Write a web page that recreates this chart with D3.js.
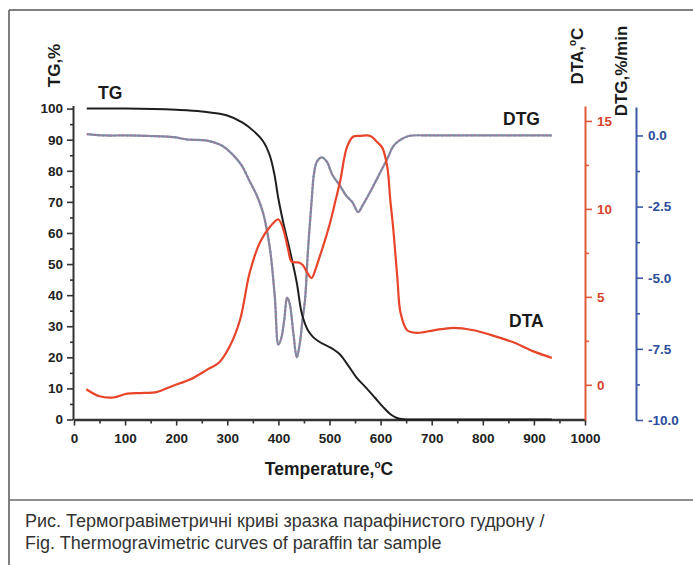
<!DOCTYPE html>
<html>
<head>
<meta charset="utf-8">
<script src="https://cdn.jsdelivr.net/npm/d3@7/dist/d3.min.js"></script>
<style>
  body { margin: 0; background: #fff; }
  svg { display: block; }
  svg text { font-family: Arial, "Liberation Sans", sans-serif; }
</style>
</head>
<body>
<svg id="chart" width="693" height="565"></svg>
<script>
// temperature, °C
const xTicks = [0, 100, 200, 300, 400, 500, 600, 700, 800, 900, 1000];
const tgTicks = [0, 10, 20, 30, 40, 50, 60, 70, 80, 90, 100];
const dtaTicks = [0, 5, 10, 15];
const dtgTicks = [0, -2.5, -5, -7.5, -10];

// TG, %
const tgTemp = [25, 100, 200, 250, 300, 330, 350, 370, 383, 392, 400, 410, 423, 436, 446, 458, 468, 480, 501, 520, 534, 553, 570, 589, 605, 620, 632, 645, 700, 800, 935];
const tgValues = [100, 100, 99.6, 99.1, 97.8, 95.5, 93, 89.5, 85, 79, 71, 63, 54, 44, 34, 28.6, 26.5, 25, 23.2, 21, 18, 13.5, 10.5, 7, 4, 1.6, 0.5, 0.1, 0, 0, 0];

// DTA, °C
const dtaTemp = [24, 50, 77, 104, 130, 163, 194, 227, 260, 285, 305, 325, 344, 364, 384, 400, 410, 419, 426, 440, 448, 458, 465, 473, 481, 492, 501, 512, 521, 534, 546, 560, 580, 593, 603, 613, 619, 625, 633, 639, 652, 671, 704, 743, 782, 815, 861, 899, 935];
const dtaValues = [-0.25, -0.65, -0.72, -0.5, -0.47, -0.4, -0.05, 0.3, 0.85, 1.3, 2.2, 3.7, 6.4, 8.1, 9.0, 9.4, 8.8, 7.7, 7.0, 6.95, 6.8, 6.3, 6.07, 6.6, 7.3, 8.3, 9.2, 10.5, 11.6, 13.5, 14.1, 14.15, 14.15, 13.8, 13.5, 12.4, 10.5, 8.8, 6.0, 4.1, 3.1, 2.95, 3.1, 3.24, 3.1, 2.84, 2.4, 1.9, 1.53];

// DTG, %/min
const dtgTemp = [25, 60, 100, 150, 200, 220, 260, 290, 312, 328, 344, 358, 370, 383, 393, 400, 406, 412, 417, 422, 429, 436, 442, 447, 452, 458, 465, 470, 476, 485, 495, 506, 520, 532, 545, 556, 565, 573, 585, 595, 605, 615, 624, 635, 655, 700, 800, 900, 935];
const dtgValues = [0.05, 0, 0, -0.02, -0.07, -0.14, -0.18, -0.36, -0.7, -1.05, -1.62, -2.12, -2.72, -3.92, -5.68, -7.35, -7.1, -6.4, -5.7, -5.9, -6.9, -7.8, -7.3, -6.5, -5.8, -4.0, -2.3, -1.3, -0.9, -0.77, -0.93, -1.4, -1.75, -2.1, -2.35, -2.69, -2.45, -2.2, -1.8, -1.45, -1.1, -0.75, -0.4, -0.2, -0.02, 0, 0, 0, 0];

const svg = d3.select("#chart");

// frame of the figure
svg.append("line").attr("x1", 9).attr("y1", 10).attr("x2", 693).attr("y2", 10)
    .attr("stroke", "#555").attr("stroke-width", 1.5);
svg.append("line").attr("x1", 9).attr("y1", 10).attr("x2", 9).attr("y2", 565)
    .attr("stroke", "#555").attr("stroke-width", 1.5);
svg.append("line").attr("x1", 9).attr("y1", 500).attr("x2", 693).attr("y2", 500)
    .attr("stroke", "#6a6a6a").attr("stroke-width", 1.5);

const x = d3.scaleLinear().domain([0, 1000]).range([74, 585]);
const yTG = d3.scaleLinear().domain([0, 101]).range([419.5, 105.5]);
const yDTA = d3.scaleLinear().domain([-2, 15.85]).range([420, 106]);
const yDTG = d3.scaleLinear().domain([-10, 1]).range([420, 107]);

function minorOf(major) {
    const out = [];
    for (let i = 0; i < major.length - 1; i++) out.push((major[i] + major[i + 1]) / 2);
    return out;
}

function styleAxis(g, color, width, labelColor) {
    g.attr("font-family", null).attr("font-size", null);
    g.select(".domain").attr("stroke", color).attr("stroke-width", width);
    g.selectAll(".tick line").attr("stroke", color).attr("stroke-width", 1.6);
    g.selectAll(".tick text")
        .attr("fill", labelColor)
        .style("font-size", "13.5px")
        .style("font-weight", "bold");
}

function minorStyle(g, color) {
    g.select(".domain").remove();
    g.selectAll("line").attr("stroke", color).attr("stroke-width", 1.6);
}

// minor ticks first, then the main axes on top
svg.append("g").attr("transform", "translate(0,419.5)")
    .call(d3.axisBottom(x).tickValues(minorOf(xTicks)).tickSize(4).tickFormat(""))
    .call(g => minorStyle(g, "#333"));
svg.append("g").attr("transform", "translate(73,0)")
    .call(d3.axisLeft(yTG).tickValues(minorOf(tgTicks)).tickSize(3).tickFormat(""))
    .call(g => minorStyle(g, "#333"));
svg.append("g").attr("transform", "translate(585,0)")
    .call(d3.axisRight(yDTA).tickValues(minorOf(dtaTicks)).tickSize(4).tickFormat(""))
    .call(g => minorStyle(g, "#e0583a"));
svg.append("g").attr("transform", "translate(636,0)")
    .call(d3.axisRight(yDTG).tickValues(minorOf(dtgTicks)).tickSize(4).tickFormat(""))
    .call(g => minorStyle(g, "#3d5aa8"));

svg.append("g").attr("transform", "translate(0,419.5)")
    .call(d3.axisBottom(x).tickValues(xTicks).tickSize(6).tickSizeOuter(0).tickPadding(8)
        .tickFormat(d3.format("d")))
    .call(g => styleAxis(g, "#333", 2.5, "#222"));

svg.append("g").attr("transform", "translate(73,0)")
    .call(d3.axisLeft(yTG).tickValues(tgTicks).tickSize(6).tickSizeOuter(0).tickPadding(4)
        .tickFormat(d3.format("d")))
    .call(g => styleAxis(g, "#333", 2, "#222"));

svg.append("g").attr("transform", "translate(585,0)")
    .call(d3.axisRight(yDTA).tickValues(dtaTicks).tickSize(7).tickSizeOuter(0).tickPadding(5)
        .tickFormat(d3.format("d")))
    .call(g => styleAxis(g, "#e0583a", 2, "#d8442c"));

svg.append("g").attr("transform", "translate(636,0)")
    .call(d3.axisRight(yDTG).tickValues(dtgTicks).tickSize(7).tickSizeOuter(0).tickPadding(5)
        .tickFormat(d => d.toFixed(1)))
    .call(g => styleAxis(g, "#3d5aa8", 2, "#2b4c9b"));

// curves
const curve = d3.curveCatmullRom.alpha(0.5);
const tgLine = d3.line().x(d => x(d[0])).y(d => yTG(d[1])).curve(curve);
const dtaLine = d3.line().x(d => x(d[0])).y(d => yDTA(d[1])).curve(curve);
const dtgLine = d3.line().x(d => x(d[0])).y(d => yDTG(d[1])).curve(curve);

// DTG is printed as a speckled grey-blue trace
const dtgData = d3.zip(dtgTemp, dtgValues);
svg.append("path").datum(dtgData).attr("d", dtgLine)
    .attr("fill", "none").attr("stroke", "#7f89a8").attr("stroke-width", 2.2);
svg.append("path").datum(dtgData).attr("d", dtgLine)
    .attr("fill", "none").attr("stroke", "#b86a90").attr("stroke-width", 2.2)
    .attr("stroke-dasharray", "1.3,2.7").attr("opacity", 0.75);
svg.append("path").datum(dtgData).attr("d", dtgLine)
    .attr("fill", "none").attr("stroke", "#6aa38c").attr("stroke-width", 2.2)
    .attr("stroke-dasharray", "1,5").attr("stroke-dashoffset", 2).attr("opacity", 0.7);

svg.append("path").datum(d3.zip(tgTemp, tgValues)).attr("d", tgLine)
    .attr("fill", "none").attr("stroke", "#1e1e1e").attr("stroke-width", 2);

svg.append("path").datum(d3.zip(dtaTemp, dtaValues)).attr("d", dtaLine)
    .attr("fill", "none").attr("stroke", "#e8442a").attr("stroke-width", 2.2);

// curve labels
const lab = (t, px, py) => svg.append("text").text(t).attr("x", px).attr("y", py)
    .style("font-size", "17.5px").style("font-weight", "bold").attr("fill", "#1a1a1a");
lab("TG", 98, 99);
lab("DTG", 503, 124.5);
lab("DTA", 509, 327);

// axis titles
function rotTitle(px, py, parts, color) {
    const t = svg.append("text")
        .attr("transform", `translate(${px},${py}) rotate(-90)`)
        .attr("text-anchor", "middle")
        .style("font-size", "17px").style("font-weight", "bold").attr("fill", color);
    parts.forEach(p => {
        const s = t.append("tspan").text(p.t);
        if (p.sup) s.attr("dy", -7).style("font-size", "10px");
        if (p.down) s.attr("dy", 7);
    });
    return t;
}
rotTitle(60, 65.5, [{ t: "TG,%" }], "#1a1a1a");
rotTitle(583, 56, [{ t: "DTA," }, { t: "o", sup: true }, { t: "C", down: true }], "#1a1a1a");
rotTitle(627, 71, [{ t: "DTG,%/min" }], "#1a1a1a");

const xt = svg.append("text").attr("x", 329).attr("y", 475).attr("text-anchor", "middle")
    .style("font-size", "17.5px").style("font-weight", "bold").attr("fill", "#1a1a1a");
xt.append("tspan").text("Temperature,");
xt.append("tspan").text("o").attr("dy", -7).style("font-size", "10px");
xt.append("tspan").text("C").attr("dy", 7);

// caption
const cap = svg.append("text").style("font-size", "18px").attr("fill", "#333");
cap.append("tspan").attr("x", 25).attr("y", 527)
    .text("Рис. Термогравіметричні криві зразка парафінистого гудрону /");
cap.append("tspan").attr("x", 25).attr("y", 549)
    .text("Fig. Thermogravimetric curves of paraffin tar sample");
</script>
</body>
</html>
